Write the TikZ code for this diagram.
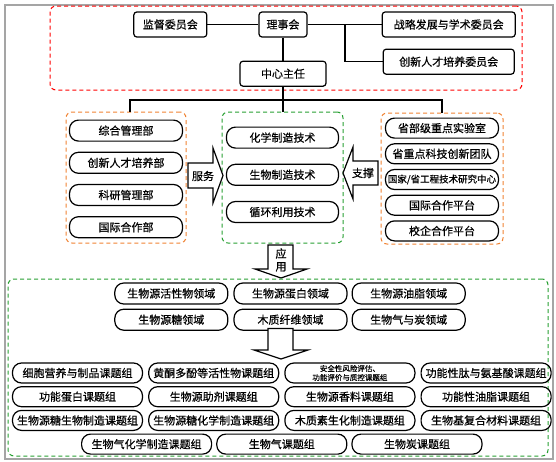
\documentclass[tikz,border=0pt]{standalone}
\usepackage{fontspec}
\newfontfamily\cjk[FakeBold=0.6]{Noto Sans CJK SC}
\usetikzlibrary{positioning, calc}
\definecolor{framegray}{RGB}{165,165,165}
\definecolor{dashred}{RGB}{255,0,0}
\definecolor{dashorange}{RGB}{240,130,50}
\definecolor{dashgreen}{RGB}{40,160,50}

\begin{document}
\begin{tikzpicture}[
    x=1pt, y=-1pt,
    box/.style={rectangle, draw, line width=1.2pt, rounded corners=3pt, minimum height=25pt, inner sep=1pt, font=\cjk\fontsize{11}{13}\selectfont},
    pill/.style={rectangle, draw, line width=1.2pt, rounded corners=9pt, minimum width=113pt, minimum height=21pt, inner sep=1pt, font=\cjk\fontsize{11}{13}\selectfont},
    topic/.style={pill, minimum width=130pt, minimum height=20pt},
    zone/.style={rectangle, draw, line width=1pt, rounded corners=6pt, dash pattern=on 4pt off 3pt},
    link/.style={line width=1.2pt},
    bigarrow/.style={draw, line width=1.2pt, fill=white, line join=miter},
    arrowtext/.style={font=\cjk\fontsize{11}{13}\selectfont, inner sep=0pt, align=center}
]
\useasboundingbox (0,0) rectangle (556,461);

% Frame
\draw[framegray, line width=2.5pt] (5,5) rectangle (553,459);

% Leadership
\node[zone, draw=dashred, minimum width=472pt, minimum height=84pt] (lead) at (286,48) {};
\node[box, minimum width=48pt] (board) at (283,24.5) {理事会};
\node[box, minimum width=73pt, left=51pt of board] (super) {监督委员会};
\node[box, minimum width=133pt, right=74pt of board] (strat) {战略发展与学术委员会};
\node[box, minimum width=131pt, below=11pt of strat] (talent) {创新人才培养委员会};
\node[box, minimum width=86pt, below=23pt of board] (dir) {中心主任};
\coordinate (split) at (345,24.5);

\draw[link] (super) -- (board);
\draw[link] (board) -- (strat);
\draw[link] (split) |- (talent.west);
\draw[link] (board) -- (dir);

% Departments
\node[zone, draw=dashorange, minimum width=120pt, minimum height=131pt] (dept) at (126,177.5) {};
\node[pill, below=8pt of dept.north] (admin) {综合管理部};
\node[pill, below=10pt of admin] (train) {创新人才培养部};
\node[pill, below=10pt of train] (research) {科研管理部};
\node[pill, below=10pt of research] (intl) {国际合作部};

% Technologies
\node[zone, draw=dashgreen, minimum width=121pt, minimum height=131pt] (tech) at (282.5,177.5) {};
\node[pill, minimum width=112pt, below=15pt of tech.north] (chem) {化学制造技术};
\node[pill, minimum width=112pt, below=15pt of chem] (bio) {生物制造技术};
\node[pill, minimum width=112pt, below=15pt of bio] (recyc) {循环利用技术};

% Platforms
\node[zone, draw=dashorange, minimum width=122pt, minimum height=131pt] (plat) at (442,178.5) {};
\node[pill, minimum height=20pt, below=5pt of plat.north] (lab) {省部级重点实验室};
\node[pill, minimum height=20pt, below=4.5pt of lab] (team) {省重点科技创新团队};
\node[pill, minimum height=20pt, below=4.5pt of team, font=\cjk\fontsize{9.5}{11}\selectfont] (eng) {国家/省工程技术研究中心};
\node[pill, minimum height=20pt, below=4.5pt of eng] (coop) {国际合作平台};
\node[pill, minimum height=20pt, below=4.5pt of coop] (firm) {校企合作平台};

\coordinate (bus) at (283,100);
\draw[link] ([xshift=4pt]dept.north) |- (bus) -| (plat.north);
\draw[link] (dir.south) -- (dir.south |- tech.north);

% Big arrows
\draw[bigarrow] (188,163) -- (213,163) -- (213,148) -- (223,175.5) -- (213,203) -- (213,188) -- (188,188) -- cycle;
\node[arrowtext] (serve) at (203,176) {服务};
\draw[bigarrow] (378,161) -- (353,161) -- (353,147) -- (343,173) -- (353,199) -- (353,185) -- (378,185) -- cycle;
\node[arrowtext] (support) at (363,173) {支撑};
\draw[bigarrow] (268,245) -- (293,245) -- (293,269) -- (307,269) -- (281,278) -- (255,269) -- (268,269) -- cycle;
\node[arrowtext] (apply) at (281,260) {应\\用};

% Application fields
\node[zone, draw=dashgreen, minimum width=540pt, minimum height=177pt] (app) at (278,367.5) {};
\node[pill] (prot) at (290.5,293.5) {生物源蛋白领域};
\node[pill, left=5pt of prot] (active) {生物源活性物领域};
\node[pill, right=4pt of prot] (lipid) {生物源油脂领域};
\node[pill, below=4pt of active] (sugar) {生物源糖领域};
\node[pill, below=4pt of prot] (fiber) {木质纤维领域};
\node[pill, below=4pt of lipid] (gaschar) {生物气与炭领域};

\draw[bigarrow] (268,328.5) -- (293,328.5) -- (293,350) -- (308,350) -- (281,359) -- (254,350) -- (268,350) -- cycle;

% Research groups
\node[topic] (cell) at (77.5,373) {细胞营养与制品课题组};
\node[topic, right=5pt of cell] (flav) {黄酮多酚等活性物课题组};
\node[topic, right=5pt of flav, align=center, font=\cjk\fontsize{7.5}{9}\selectfont] (safe) {安全性风险评估、\\功能评价与质控课题组};
\node[topic, right=5pt of safe] (pept) {功能性肽与氨基酸课题组};

\node[topic, below=2.5pt of cell] (fprot) {功能蛋白课题组};
\node[topic, below=2.5pt of flav] (addi) {生物源助剂课题组};
\node[topic, below=2.5pt of safe] (aroma) {生物源香料课题组};
\node[topic, below=2.5pt of pept] (oil) {功能性油脂课题组};

\node[topic, below=2.5pt of fprot] (sbio) {生物源糖生物制造课题组};
\node[topic, below=2.5pt of addi] (schem) {生物源糖化学制造课题组};
\node[topic, below=2.5pt of aroma] (lign) {木质素生化制造课题组};
\node[topic, below=2.5pt of oil] (comp) {生物基复合材料课题组};

\coordinate (row4) at ($(schem.south)!0.5!(lign.south)$);
\node[topic, below=2.5pt of row4] (gas) {生物气课题组};
\node[topic, left=4pt of gas] (gchem) {生物气化学制造课题组};
\node[topic, right=4pt of gas] (char) {生物炭课题组};

\end{tikzpicture}
\end{document}
